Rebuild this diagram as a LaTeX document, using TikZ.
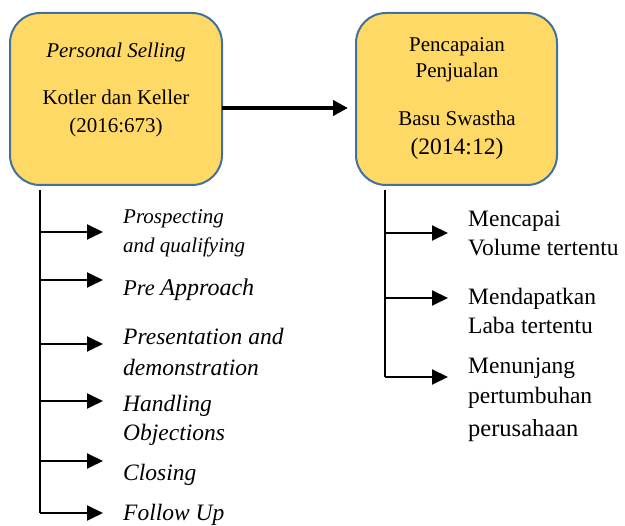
\documentclass[tikz,border=0pt]{standalone}
\usepackage{fontspec}
\setmainfont{Liberation Serif}
\usetikzlibrary{arrows.meta}
\definecolor{boxfill}{HTML}{FFD966}
\definecolor{boxline}{HTML}{41719C}
\tikzset{
  box/.style={draw=boxline, fill=boxfill, line width=2pt, rounded corners=30pt, inner sep=0pt},
  txt/.style={inner sep=0pt, anchor=base},
  lbl/.style={inner sep=0pt, anchor=base west},
  fA/.style={font=\fontsize{21}{25}\selectfont},
  fB/.style={font=\fontsize{23.5}{28}\selectfont},
  fAi/.style={font=\fontsize{21}{25}\selectfont\itshape},
  fBi/.style={font=\fontsize{23.5}{28}\selectfont\itshape},
  trunk/.style={line width=1.5pt},
  branch/.style={line width=2pt, -{Triangle[length=16pt,width=15pt]}},
  mainarr/.style={line width=4.5pt, -{Triangle[length=15pt,width=15pt]}}
}
\begin{document}
\begin{tikzpicture}[x=1pt,y=-1pt]
\useasboundingbox (0,0) rectangle (625,526);
% boxes
\node[box, minimum width=212pt, minimum height=172pt] (b1) at (116,99) {};
\node[box, minimum width=201pt, minimum height=172pt] (b2) at (456.5,99) {};
% box texts
\node[txt, fAi] (t1a) at (116,58) {Personal Selling};
\node[txt, fA] (t1b) at (116,105) {Kotler dan Keller};
\node[txt, fA] (t1c) at (116,133) {(2016:673)};
\node[txt, fA] (t2a) at (457,52) {Pencapaian};
\node[txt, fA] (t2b) at (457,78) {Penjualan};
\node[txt, fA] (t2c) at (457,126) {Basu Swastha};
\node[txt, fB] (t2d) at (457,155) {(2014:12)};
% main arrow
\coordinate (m1) at (222,108);
\coordinate (m2) at (348,108);
\draw[mainarr] (m1) -- (m2);
% left trunk
\coordinate (lt) at (40,190);
\coordinate (lb) at (40,513);
\draw[trunk] (lt) -- (lb);
\foreach \y [count=\i] in {232,280,344,401,461,513}{
  \coordinate (lp\i) at (40,\y);
  \coordinate (la\i) at (103,\y);
  \draw[branch] (lp\i) -- (la\i);
}
% left labels
\node[lbl, fAi] (l1a) at (123,224) {Prospecting};
\node[lbl, fAi] (l1b) at (123,253) {and qualifying};
\node[lbl] (l2) at (123,296) {\fontsize{22.5}{26}\selectfont\itshape Pre \fontsize{24}{28}\selectfont Approach};
\node[lbl, fBi] (l3a) at (123,345) {Presentation and};
\node[lbl, fBi] (l3b) at (123,376) {demonstration};
\node[lbl, fBi] (l4a) at (123,412) {Handling};
\node[lbl, fBi] (l4b) at (123,441) {Objections};
\node[lbl, fBi] (l5) at (123,481) {Closing};
\node[lbl, fBi] (l6) at (123,521) {Follow Up};
% right trunk
\coordinate (rt) at (385,190);
\coordinate (rb) at (385,377);
\draw[trunk] (rt) -- (rb);
\foreach \y [count=\i] in {233,298,377}{
  \coordinate (rp\i) at (385,\y);
  \coordinate (ra\i) at (448,\y);
  \draw[branch] (rp\i) -- (ra\i);
}
% right labels
\node[lbl, fB] (r1a) at (468,227) {Mencapai};
\node[lbl, fB] (r1b) at (468,256) {Volume tertentu};
\node[lbl, fB] (r2a) at (468,305) {Mendapatkan};
\node[lbl, fB] (r2b) at (468,334) {Laba tertentu};
\node[lbl, fB] (r3a) at (468,374) {Menunjang};
\node[lbl, fB] (r3b) at (468,404) {pertumbuhan};
\node[lbl, font=\fontsize{24.5}{29}\selectfont] (r3c) at (468,437) {perusahaan};
\end{tikzpicture}
\end{document}
